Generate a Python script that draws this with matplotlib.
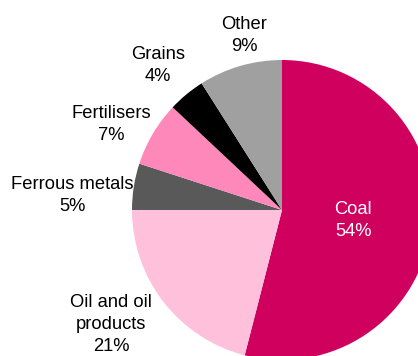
import numpy as np
import matplotlib
matplotlib.use("Agg")
import matplotlib.pyplot as plt
from matplotlib import font_manager

categories = ["Coal", "Oil and oil\nproducts", "Ferrous metals", "Fertilisers", "Grains", "Other"]
values = [54, 21, 5, 7, 4, 9]
colors = ["#D0005F", "#FFC0DC", "#595959", "#FF88BB", "#000000", "#A0A0A0"]
text_colors = ["white", "black", "black", "black", "black", "black"]
label_dist = [0.48, 1.37, 1.40, 1.27, 1.27, 1.19]
label_shift = [-1, -4, 5, 4, 1, -4]   # degrees

names = {f.name for f in font_manager.fontManager.ttflist}
family = "Liberation Sans Narrow" if "Liberation Sans Narrow" in names else "Liberation Sans"
fsize = 15 if family == "Liberation Sans Narrow" else 13.2

W, H = 418, 356
fig = plt.figure(figsize=(W / 100, H / 100), dpi=100)
cx, cy, r = 282, 210, 150
ax = fig.add_axes([(cx - r) / W, (H - cy - r) / H, 2 * r / W, 2 * r / H])

wedges, _ = ax.pie(values, colors=colors, startangle=90, counterclock=False,
                   radius=1, wedgeprops=dict(linewidth=0))
ax.set_xlim(-1, 1)
ax.set_ylim(-1, 1)
ax.set_aspect("equal")
ax.axis("off")
for w in wedges:
    w.set_clip_on(False)

for w, name, v, d, s, tc in zip(wedges, categories, values, label_dist, label_shift, text_colors):
    ang = np.deg2rad((w.theta1 + w.theta2) / 2 + s)
    ax.text(d * np.cos(ang), d * np.sin(ang), f"{name}\n{v}%", ha="center", va="center",
            fontsize=fsize, family=family, color=tc, linespacing=1.4, clip_on=False)

fig.savefig("out.png", dpi=100)
